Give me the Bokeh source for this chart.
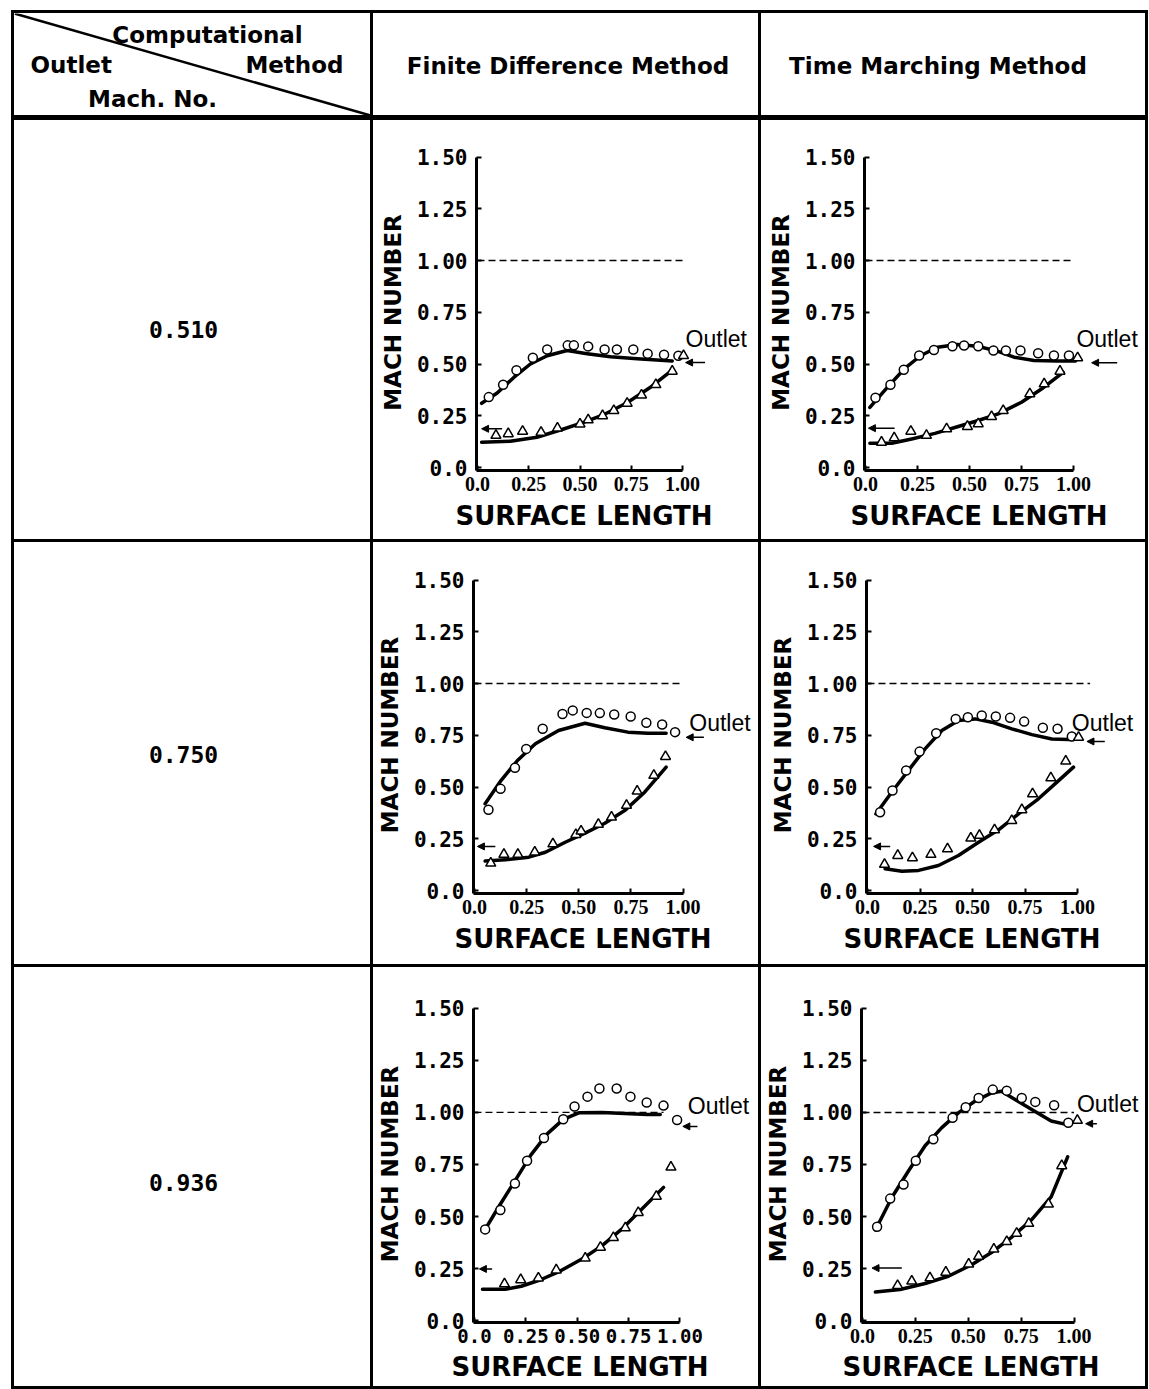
from bokeh.plotting import figure
from bokeh.models import Range1d, FixedTicker, Label, Arrow, NormalHead, Div, Spacer, Title
from bokeh.layouts import row, column
from bokeh.core.properties import value
from bokeh.embed import file_html
from bokeh.resources import INLINE

# ------------------------------------------------------------------ data
x_ticks = [0.0, 0.25, 0.5, 0.75, 1.0]
x_tick_labels = ["0.0", "0.25", "0.50", "0.75", "1.00"]
y_ticks = [0.0, 0.25, 0.5, 0.75, 1.0, 1.25, 1.5]
y_tick_labels = ["0.0", "0.25", "0.50", "0.75", "1.00", "1.25", "1.50"]

outlet_mach_labels = ["0.510", "0.750", "0.936"]
method_labels = ["Finite Difference Method", "Time Marching Method"]
corner_labels = ["Computational", "Outlet", "Method", "Mach. No."]

# Finite Difference Method, outlet Mach 0.510
fdm_510_circ_x = [0.055, 0.125, 0.19, 0.27, 0.34, 0.44, 0.47, 0.54, 0.62, 0.68, 0.76, 0.83, 0.91, 0.98]
fdm_510_circ_y = [0.34, 0.40, 0.47, 0.53, 0.57, 0.59, 0.59, 0.585, 0.57, 0.57, 0.57, 0.55, 0.545, 0.54]
fdm_510_tri_x = [0.09, 0.15, 0.22, 0.31, 0.39, 0.50, 0.54, 0.61, 0.665, 0.73, 0.80, 0.87, 0.95, 1.005]
fdm_510_tri_y = [0.155, 0.163, 0.175, 0.17, 0.19, 0.21, 0.23, 0.25, 0.275, 0.31, 0.35, 0.40, 0.465, 0.54]
fdm_510_up_x = [0.02, 0.096, 0.177, 0.258, 0.34, 0.437, 0.535, 0.649, 0.779, 0.95]
fdm_510_up_y = [0.31, 0.36, 0.435, 0.50, 0.54, 0.565, 0.55, 0.535, 0.525, 0.515]
fdm_510_lo_x = [0.02, 0.16, 0.29, 0.42, 0.52, 0.62, 0.73, 0.84, 0.95]
fdm_510_lo_y = [0.122, 0.127, 0.146, 0.186, 0.219, 0.257, 0.313, 0.385, 0.47]

# Time Marching Method, outlet Mach 0.510
tmm_510_circ_x = [0.048, 0.12, 0.184, 0.258, 0.329, 0.418, 0.474, 0.542, 0.615, 0.675, 0.745, 0.83, 0.906, 0.978]
tmm_510_circ_y = [0.337, 0.40, 0.472, 0.541, 0.568, 0.586, 0.589, 0.586, 0.565, 0.565, 0.565, 0.552, 0.541, 0.541]
tmm_510_tri_x = [0.077, 0.138, 0.218, 0.293, 0.39, 0.49, 0.542, 0.606, 0.662, 0.79, 0.859, 0.935, 1.02]
tmm_510_tri_y = [0.122, 0.143, 0.175, 0.155, 0.187, 0.198, 0.211, 0.246, 0.275, 0.356, 0.404, 0.465, 0.53]
tmm_510_up_x = [0.021, 0.106, 0.186, 0.266, 0.346, 0.442, 0.538, 0.634, 0.714, 0.81, 0.92, 1.01]
tmm_510_up_y = [0.29, 0.388, 0.476, 0.541, 0.581, 0.594, 0.586, 0.562, 0.533, 0.517, 0.514, 0.514]
tmm_510_lo_x = [0.021, 0.126, 0.222, 0.334, 0.446, 0.542, 0.638, 0.75, 0.846, 0.95]
tmm_510_lo_y = [0.117, 0.117, 0.138, 0.165, 0.198, 0.227, 0.259, 0.315, 0.379, 0.46]

# Finite Difference Method, outlet Mach 0.750
fdm_750_circ_x = [0.067, 0.125, 0.194, 0.248, 0.327, 0.422, 0.471, 0.538, 0.601, 0.67, 0.749, 0.824, 0.90, 0.962]
fdm_750_circ_y = [0.39, 0.491, 0.593, 0.684, 0.781, 0.853, 0.87, 0.858, 0.857, 0.85, 0.841, 0.81, 0.802, 0.765]
fdm_750_tri_x = [0.078, 0.141, 0.208, 0.289, 0.376, 0.486, 0.511, 0.594, 0.657, 0.729, 0.78, 0.86, 0.916]
fdm_750_tri_y = [0.132, 0.174, 0.174, 0.185, 0.225, 0.27, 0.287, 0.319, 0.354, 0.411, 0.48, 0.556, 0.647]
fdm_750_up_x = [0.051, 0.127, 0.206, 0.292, 0.403, 0.53, 0.625, 0.736, 0.832, 0.919]
fdm_750_up_y = [0.419, 0.531, 0.628, 0.709, 0.773, 0.808, 0.786, 0.765, 0.76, 0.76]
fdm_750_lo_x = [0.051, 0.149, 0.26, 0.34, 0.435, 0.53, 0.625, 0.72, 0.816, 0.919]
fdm_750_lo_y = [0.142, 0.148, 0.161, 0.185, 0.233, 0.277, 0.325, 0.386, 0.475, 0.596]

# Time Marching Method, outlet Mach 0.750
tmm_750_circ_x = [0.06, 0.119, 0.184, 0.248, 0.327, 0.42, 0.478, 0.544, 0.611, 0.679, 0.746, 0.835, 0.905, 0.973]
tmm_750_circ_y = [0.378, 0.483, 0.58, 0.671, 0.76, 0.829, 0.837, 0.845, 0.841, 0.834, 0.816, 0.786, 0.781, 0.744]
tmm_750_tri_x = [0.081, 0.144, 0.214, 0.302, 0.381, 0.492, 0.533, 0.605, 0.687, 0.735, 0.786, 0.873, 0.944, 1.005]
tmm_750_tri_y = [0.126, 0.169, 0.158, 0.174, 0.201, 0.253, 0.266, 0.293, 0.338, 0.39, 0.467, 0.544, 0.625, 0.74]
tmm_750_up_x = [0.04, 0.116, 0.195, 0.274, 0.354, 0.433, 0.513, 0.592, 0.687, 0.783, 0.878, 0.957, 1.005]
tmm_750_up_y = [0.37, 0.476, 0.58, 0.684, 0.773, 0.821, 0.829, 0.813, 0.781, 0.753, 0.732, 0.729, 0.732]
tmm_750_lo_x = [0.084, 0.164, 0.243, 0.338, 0.433, 0.529, 0.624, 0.719, 0.814, 0.91, 0.981]
tmm_750_lo_y = [0.105, 0.093, 0.097, 0.121, 0.169, 0.233, 0.293, 0.37, 0.443, 0.531, 0.596]

# Finite Difference Method, outlet Mach 0.936
fdm_936_circ_x = [0.052, 0.126, 0.197, 0.256, 0.338, 0.432, 0.487, 0.55, 0.608, 0.692, 0.759, 0.838, 0.92, 0.986]
fdm_936_circ_y = [0.438, 0.531, 0.659, 0.768, 0.877, 0.967, 1.029, 1.076, 1.115, 1.115, 1.076, 1.048, 1.033, 0.964]
fdm_936_tri_x = [0.146, 0.225, 0.311, 0.398, 0.539, 0.613, 0.676, 0.734, 0.797, 0.885, 0.956]
fdm_936_tri_y = [0.176, 0.196, 0.204, 0.243, 0.30, 0.352, 0.399, 0.445, 0.519, 0.597, 0.737]
fdm_936_up_x = [0.052, 0.118, 0.197, 0.275, 0.354, 0.432, 0.511, 0.621, 0.731, 0.841, 0.904]
fdm_936_up_y = [0.438, 0.547, 0.671, 0.796, 0.897, 0.967, 0.999, 1.0, 0.995, 0.99, 0.99]
fdm_936_lo_x = [0.039, 0.149, 0.228, 0.322, 0.417, 0.527, 0.621, 0.715, 0.81, 0.92]
fdm_936_lo_y = [0.15, 0.15, 0.165, 0.196, 0.238, 0.298, 0.36, 0.438, 0.531, 0.64]

# Time Marching Method, outlet Mach 0.936
tmm_936_circ_x = [0.069, 0.131, 0.194, 0.252, 0.335, 0.426, 0.488, 0.549, 0.616, 0.682, 0.753, 0.817, 0.906, 0.973]
tmm_936_circ_y = [0.451, 0.586, 0.654, 0.768, 0.871, 0.975, 1.025, 1.07, 1.11, 1.105, 1.07, 1.051, 1.035, 0.951]
tmm_936_tri_x = [0.166, 0.233, 0.319, 0.394, 0.502, 0.549, 0.621, 0.682, 0.729, 0.786, 0.879, 0.942, 1.016]
tmm_936_tri_y = [0.168, 0.189, 0.205, 0.232, 0.271, 0.308, 0.343, 0.379, 0.419, 0.467, 0.559, 0.744, 0.962]
tmm_936_up_x = [0.061, 0.14, 0.218, 0.296, 0.375, 0.453, 0.531, 0.61, 0.657, 0.735, 0.814, 0.892, 0.962]
tmm_936_up_y = [0.435, 0.594, 0.72, 0.84, 0.927, 0.998, 1.054, 1.094, 1.102, 1.054, 1.006, 0.959, 0.943]
tmm_936_lo_x = [0.061, 0.178, 0.296, 0.406, 0.516, 0.61, 0.704, 0.798, 0.892, 0.97]
tmm_936_lo_y = [0.137, 0.149, 0.178, 0.213, 0.268, 0.327, 0.40, 0.483, 0.594, 0.787]

# inlet / outlet Mach arrows (one per panel, row by row, FDM then TMM)
inlet_arrow_mach = [0.187, 0.19, 0.213, 0.213, 0.248, 0.252]
outlet_arrow_mach = [0.507, 0.506, 0.74, 0.72, 0.933, 0.946]
sonic_mach = 1.0
sonic_line_end = [1.0, 1.0, 0.99, 1.06, 0.92, 1.0]

SERIES = {
    "fdm_510": (fdm_510_circ_x, fdm_510_circ_y, fdm_510_tri_x, fdm_510_tri_y,
                fdm_510_up_x, fdm_510_up_y, fdm_510_lo_x, fdm_510_lo_y),
    "tmm_510": (tmm_510_circ_x, tmm_510_circ_y, tmm_510_tri_x, tmm_510_tri_y,
                tmm_510_up_x, tmm_510_up_y, tmm_510_lo_x, tmm_510_lo_y),
    "fdm_750": (fdm_750_circ_x, fdm_750_circ_y, fdm_750_tri_x, fdm_750_tri_y,
                fdm_750_up_x, fdm_750_up_y, fdm_750_lo_x, fdm_750_lo_y),
    "tmm_750": (tmm_750_circ_x, tmm_750_circ_y, tmm_750_tri_x, tmm_750_tri_y,
                tmm_750_up_x, tmm_750_up_y, tmm_750_lo_x, tmm_750_lo_y),
    "fdm_936": (fdm_936_circ_x, fdm_936_circ_y, fdm_936_tri_x, fdm_936_tri_y,
                fdm_936_up_x, fdm_936_up_y, fdm_936_lo_x, fdm_936_lo_y),
    "tmm_936": (tmm_936_circ_x, tmm_936_circ_y, tmm_936_tri_x, tmm_936_tri_y,
                tmm_936_up_x, tmm_936_up_y, tmm_936_lo_x, tmm_936_lo_y),
}

# ------------------------------------------------------------------ layout
LEFT_PAD, TOP_PAD = 11, 10
VL, HL, HL_HEAD = 3, 3, 5
COL_W = [356, 385, 384]
HEAD_H = 102
ROW_H = [419, 422, 419]
ROW_LABEL_CY = [209, 212, 215]   # vertical centre of the row label inside its cell
ROW_LABEL_H = 60
TABLE_W = VL * 4 + sum(COL_W)
HEAD_FONT = "DejaVu Sans"

# page pixel anchors of each panel: axis origin, px per unit
PANEL_CFG = [
    dict(key="fdm_510", cell=(373, 120), X0=477, Xs=205, Y0=467, Ys=207, bpad=3, xlab_left=455, tstand=10,
         outlet=(1.015, 0.62), arr_in=(0.12, 0.02), arr_out=(1.11, 1.015), xfont="Liberation Serif", xsize="20px"),
    dict(key="tmm_510", cell=(761, 120), X0=865, Xs=208, Y0=467, Ys=207, bpad=3, xlab_left=850, tstand=10,
         outlet=(1.014, 0.62), arr_in=(0.14, 0.014), arr_out=(1.21, 1.087), xfont="Liberation Serif", xsize="20px"),
    dict(key="fdm_750", cell=(373, 542), X0=472, Xs=210, Y0=890, Ys=207, bpad=3, xlab_left=452, tstand=10,
         outlet=(1.03, 0.81), arr_in=(0.10, 0.014), arr_out=(1.10, 1.015), xfont="Liberation Serif", xsize="20px"),
    dict(key="tmm_750", cell=(761, 542), X0=867, Xs=210, Y0=890, Ys=207, bpad=3, xlab_left=843, tstand=10,
         outlet=(0.973, 0.81), arr_in=(0.108, 0.029), arr_out=(1.13, 1.045), xfont="Liberation Serif", xsize="20px"),
    dict(key="fdm_936", cell=(373, 967), X0=465, Xs=212, Y0=1322, Ys=214, bpad=2, xlab_left=442, tstand=9,
         outlet=(1.038, 1.03), arr_in=(0.086, 0.024), arr_out=(1.085, 1.014), xfont="DejaVu Sans Mono", xsize="19px"),
    dict(key="tmm_936", cell=(761, 967), X0=860, Xs=213, Y0=1323, Ys=210, bpad=2, xlab_left=840, tstand=9,
         outlet=(1.014, 1.04), arr_in=(0.186, 0.045), arr_out=(1.108, 1.055), xfont="Liberation Serif", xsize="20px"),
]


def black(w, h):
    return Div(text="", width=w, height=h, margin=0, styles={"background-color": "black"})


def blank_fig(w, h):
    p = figure(width=w, height=h, x_range=Range1d(0, w), y_range=Range1d(h, 0),
               toolbar_location=None, output_backend="svg", min_border=0,
               x_axis_location=None, y_axis_location=None)
    p.grid.visible = False
    p.outline_line_color = None
    p.background_fill_color = "white"
    p.border_fill_color = "white"
    return p


def panel(idx, cfg, w, h):
    cx, cy = cfg["cell"]
    X0, Xs, Y0, Ys = cfg["X0"], cfg["Xs"], cfg["Y0"], cfg["Ys"]
    L = X0 - 1
    R = cx + w
    B = Y0 + cfg["bpad"]
    T = int(round(Y0 - 1.5 * Ys - 3))
    xr = Range1d((L - X0) / Xs, (R - X0) / Xs)
    yr = Range1d((Y0 - B) / Ys, (Y0 - T) / Ys)
    p = figure(width=w, height=h, x_range=xr, y_range=yr, toolbar_location=None,
               output_backend="svg", min_border_left=L - cx, min_border_right=0,
               min_border_top=T - cy, min_border_bottom=cy + h - B)
    p.grid.visible = False
    p.outline_line_color = None

    cxs, cys, txs, tys, uxs, uys, lxs, lys = SERIES[cfg["key"]]

    # sonic line
    p.line([0.0, sonic_line_end[idx]], [sonic_mach, sonic_mach], line_color="black",
           line_width=1.3, line_dash="7 4")
    # computed distributions
    p.line(uxs, uys, line_color="black", line_width=3.5, line_cap="round", line_join="round")
    p.line(lxs, lys, line_color="black", line_width=3.5, line_cap="round", line_join="round")
    # experimental points
    p.scatter(cxs, cys, marker="circle", size=9, fill_color="white", line_color="black", line_width=1.5)
    p.scatter(txs, tys, marker="triangle", size=10, fill_color="white", line_color="black", line_width=1.5)

    head = dict(size=7, fill_color="black", line_color="black", line_width=1)
    a0, a1 = cfg["arr_in"]
    p.add_layout(Arrow(end=NormalHead(**head), x_start=a0, y_start=inlet_arrow_mach[idx],
                       x_end=a1, y_end=inlet_arrow_mach[idx], line_width=1.5, line_color="black"))
    b0, b1 = cfg["arr_out"]
    p.add_layout(Arrow(end=NormalHead(**head), x_start=b0, y_start=outlet_arrow_mach[idx],
                       x_end=b1, y_end=outlet_arrow_mach[idx], line_width=1.5, line_color="black"))
    ox, oy = cfg["outlet"]
    p.add_layout(Label(x=ox, y=oy, text="Outlet", text_font="Liberation Sans", text_font_size="23px",
                       text_baseline="middle", text_align="left", text_color="black"))

    # axes
    xa, ya = p.xaxis[0], p.yaxis[0]
    xa.ticker = FixedTicker(ticks=x_ticks)
    xa.major_label_overrides = {v: s for v, s in zip(x_ticks, x_tick_labels)}
    xa.bounds = (xr.start, 1.0)
    ya.ticker = FixedTicker(ticks=y_ticks)
    ya.major_label_overrides = {v: s for v, s in zip(y_ticks, y_tick_labels)}
    ya.bounds = (yr.start, 1.5)
    for ax in (xa, ya):
        ax.axis_line_width = 3
        ax.axis_line_color = "black"
        ax.major_tick_in = 5
        ax.major_tick_out = 0
        ax.major_tick_line_width = 2
        ax.minor_tick_line_color = None
        ax.major_label_text_color = "black"
        ax.major_label_text_font_style = "bold"
    xa.major_label_text_font = cfg["xfont"]
    xa.major_label_text_font_size = cfg["xsize"]
    xa.major_label_standoff = 6
    ya.axis_label = "MACH NUMBER"
    ya.axis_label_text_font = "DejaVu Sans"
    ya.axis_label_text_font_style = "bold"
    ya.axis_label_text_color = "black"
    ya.axis_label_text_font_size = "23px"
    ya.major_label_text_font = "DejaVu Sans Mono"
    ya.major_label_text_font_size = "21px"
    ya.major_label_standoff = 9
    ya.axis_label_standoff = 8
    # x-axis title, placed under the tick labels and aligned as in the original
    p.add_layout(Title(text="SURFACE LENGTH", align="left", offset=cfg["xlab_left"] - L,
                       text_font="DejaVu Sans", text_font_style="bold", text_font_size="26px",
                       text_color="black", standoff=cfg["tstand"]), "below")
    return p


# header: corner cell
corner = blank_fig(COL_W[0], HEAD_H)
corner.segment(x0=[0], y0=[0], x1=[COL_W[0]], y1=[HEAD_H], line_color="black", line_width=2.5)
hkw = dict(text_font=value(HEAD_FONT), text_font_style="bold", text_font_size="23px", text_baseline="middle")
corner.text(x=[193], y=[21], text=[corner_labels[0]], text_align="center", **hkw)
corner.text(x=[16], y=[51], text=[corner_labels[1]], text_align="left", **hkw)
corner.text(x=[329], y=[51], text=[corner_labels[2]], text_align="right", **hkw)
corner.text(x=[138], y=[85], text=[corner_labels[3]], text_align="center", **hkw)

head_cx = [194.5, 176.5]
heads = []
for j, lab in enumerate(method_labels):
    h = blank_fig(COL_W[j + 1], HEAD_H)
    h.text(x=[head_cx[j]], y=[52], text=[lab], text_align="center", **hkw)
    heads.append(h)

header_row = row(black(VL, HEAD_H), corner, black(VL, HEAD_H), heads[0], black(VL, HEAD_H),
                 heads[1], black(VL, HEAD_H))

body = [Spacer(width=TABLE_W, height=TOP_PAD), black(TABLE_W, HL), header_row, black(TABLE_W, HL_HEAD)]
for i in range(3):
    hgt = ROW_H[i]
    top = ROW_LABEL_CY[i] - ROW_LABEL_H // 2
    lab = blank_fig(COL_W[0], ROW_LABEL_H)
    lab.text(x=[169], y=[ROW_LABEL_H / 2], text=[outlet_mach_labels[i]], text_font=value("DejaVu Sans Mono"),
             text_font_style="bold", text_font_size="23px", text_align="center", text_baseline="middle")
    lab_cell = column(Spacer(width=COL_W[0], height=top), lab,
                      Spacer(width=COL_W[0], height=hgt - top - ROW_LABEL_H))
    p1 = panel(2 * i, PANEL_CFG[2 * i], COL_W[1], hgt)
    p2 = panel(2 * i + 1, PANEL_CFG[2 * i + 1], COL_W[2], hgt)
    body.append(row(black(VL, hgt), lab_cell, black(VL, hgt), p1, black(VL, hgt), p2, black(VL, hgt)))
    body.append(black(TABLE_W, HL))

layout = row(Spacer(width=LEFT_PAD, height=1389), column(*body))

open("out.html", "w").write(file_html(layout, INLINE))
